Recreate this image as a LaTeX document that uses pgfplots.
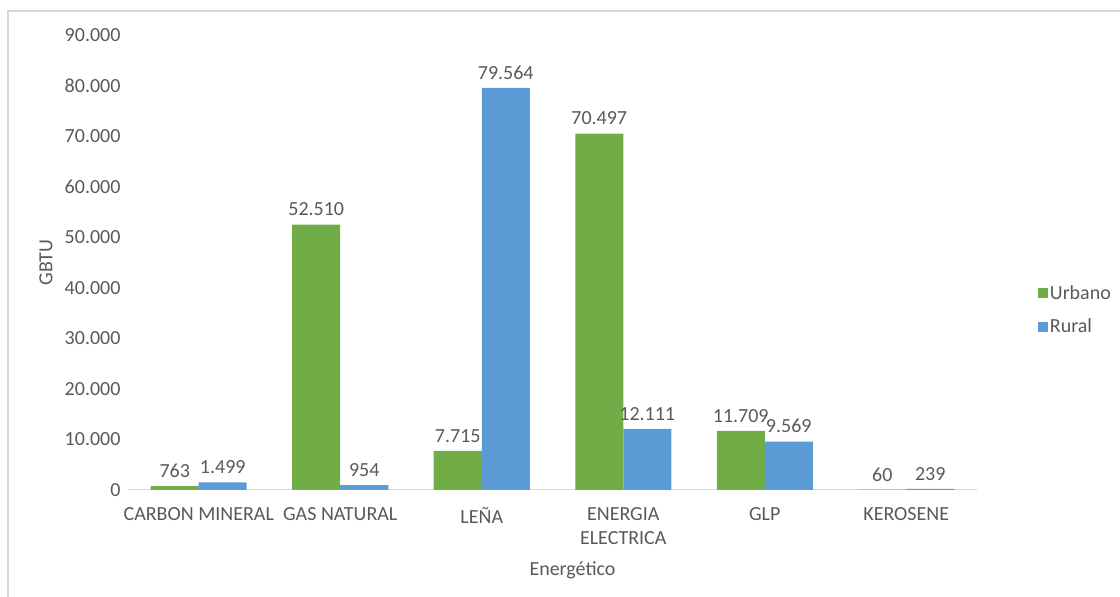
\documentclass[border=0pt]{standalone}
\usepackage{fontspec}
\setmainfont{Carlito}
\usepackage{pgfplots}
\pgfplotsset{compat=1.18}

\definecolor{urbano}{HTML}{70AD47}
\definecolor{rural}{HTML}{5B9BD5}
\definecolor{txt}{HTML}{595959}
\definecolor{axisgray}{HTML}{D9D9D9}

\begin{document}
\begin{tikzpicture}[x=1pt,y=1pt]
\useasboundingbox (-128pt,-107pt) rectangle (992pt,490pt);
% marco del grafico (solo bordes visibles)
\draw[color=black!16, line width=2pt] (-120pt,-107pt) -- (-120pt,479pt) -- (992pt,479pt);

\begin{axis}[
    at={(0pt,0pt)}, anchor=south west,
    scale only axis,
    width=849pt, height=455pt,
    ybar=0pt,
    bar width=48pt,
    xmin=-0.5, xmax=5.5,
    ymin=0, ymax=90000,
    ytick={0,10000,...,90000},
    xtick={0,1,2,3,4,5},
    xticklabels={CARBON MINERAL, GAS NATURAL, LEÑA, ENERGIA\\ELECTRICA, GLP, KEROSENE},
    scaled y ticks=false,
    axis x line*=bottom,
    axis y line*=left,
    x axis line style={draw=axisgray, line width=1pt, -},
    y axis line style={draw=none},
    major tick length=0pt,
    /pgf/number format/fixed,
    /pgf/number format/precision=0,
    /pgf/number format/1000 sep={.},
    /pgf/number format/assume math mode=true,
    font=\fontsize{20}{24}\selectfont,
    every tick label/.append style={text=txt},
    x tick label style={align=center, yshift=-14pt},
    y tick label style={xshift=-4pt},
    ylabel={GBTU},
    ylabel style={text=txt, at={(axis description cs:0,0.5)}, anchor=south, xshift=0pt, yshift=72pt},
    xlabel={Energético},
    xlabel style={text=txt, at={(axis description cs:0.5,0)}, anchor=center, yshift=-80pt, xshift=20pt},
    nodes near coords,
    nodes near coords style={text=txt, yshift=5pt},
    legend style={at={(1.068,0.396)}, anchor=west, draw=none, fill=none,
        text=txt, row sep=14pt, font=\fontsize{20}{24}\selectfont},
    legend cell align=left,
    legend image code/.code={\fill[#1] (0pt,-5pt) rectangle (10pt,5pt);},
]
\addplot[fill=urbano, draw=none] coordinates {(0,763) (1,52510) (2,7715) (3,70497) (4,11709) (5,60)};
\addplot[fill=rural, draw=none] coordinates {(0,1499) (1,954) (2,79564) (3,12111) (4,9569) (5,239)};
\legend{Urbano, Rural}
\end{axis}
\end{tikzpicture}
\end{document}
